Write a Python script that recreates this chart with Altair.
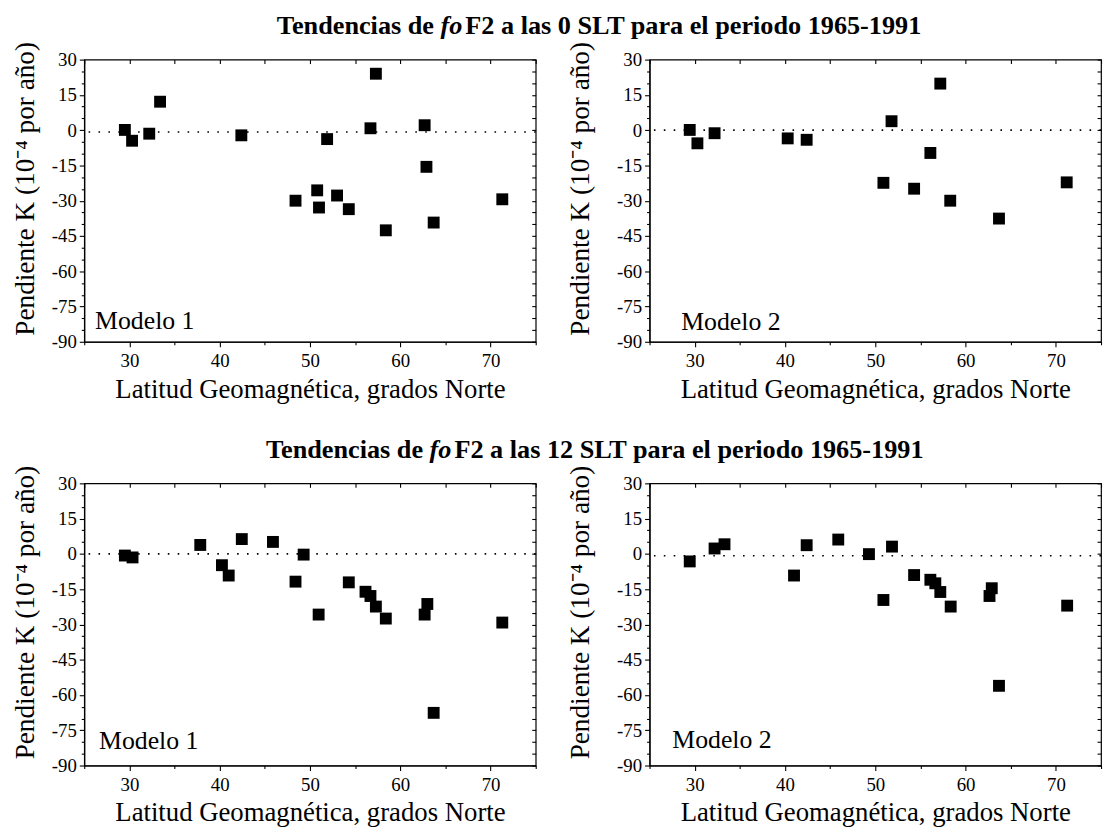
import altair as alt
import pandas as pd

# ---------------- data ----------------
# Top-left: 0 SLT, Modelo 1
tl_lat = [29.5, 30.3, 32.2, 33.4, 42.4, 48.4, 50.8, 51.0, 51.9, 53.0, 54.3, 56.7, 57.3, 58.4, 62.7, 62.9, 63.7, 71.3]
tl_k = [0.1, -4.5, -1.5, 12.1, -2.2, -30.0, -25.6, -32.9, -3.8, -27.8, -33.6, 0.8, 24.0, -42.6, 2.1, -15.6, -39.3, -29.4]
# Top-right: 0 SLT, Modelo 2
tr_lat = [29.45, 30.3, 32.2, 40.3, 42.4, 50.9, 51.8, 54.3, 56.1, 57.2, 58.3, 63.7, 71.2]
tr_k = [0.1, -5.6, -1.3, -3.5, -4.1, -22.4, 3.8, -24.9, -9.7, 19.8, -30.0, -37.6, -22.2]
# Bottom-left: 12 SLT, Modelo 1
bl_lat = [29.5, 30.35, 37.85, 40.25, 41.0, 42.45, 45.9, 48.4, 49.3, 50.96, 54.3, 56.15, 56.7, 57.3, 58.4, 62.7, 63.0, 63.7, 71.3]
bl_k = [-0.7, -1.5, 3.8, -4.8, -9.2, 6.3, 5.1, -11.8, -0.3, -25.8, -12.1, -16.1, -17.9, -22.4, -27.5, -25.8, -21.3, -67.6, -29.2]
# Bottom-right: 12 SLT, Modelo 2
br_lat = [29.45, 32.2, 33.3, 41.0, 42.4, 45.9, 49.3, 50.9, 51.85, 54.3, 56.1, 56.65, 57.2, 58.35, 62.65, 62.9, 63.7, 71.25]
br_k = [-3.2, 2.3, 4.1, -9.2, 3.7, 6.1, -0.1, -19.6, 3.1, -9.0, -11.0, -12.5, -16.2, -22.4, -17.9, -14.6, -56.1, -22.0]
# dotted reference lines
ref_levels = [-0.8, 0.0, 0.0, -0.8]

x_major = [30, 40, 50, 60, 70]
x_minor = [25, 35, 45, 55, 65, 75]
x_all = [25, 30, 35, 40, 45, 50, 55, 60, 65, 70, 75]
y_major = [30, 15, 0, -15, -30, -45, -60, -75, -90]
y_minor = [25, 20, 10, 5, -5, -10, -20, -25, -35, -40, -50, -55, -65, -70, -80, -85]
y_all = sorted(y_major + y_minor)

model_names = ["Modelo 1", "Modelo 2", "Modelo 1", "Modelo 2"]
title_hours = ["0", "12"]

FONT = "Liberation Serif"
W, H = 456, 285

xs = alt.Scale(domain=[25, 75], nice=False, zero=False)
ys = alt.Scale(domain=[-90, 30], nice=False, zero=False)

ylab_expr = "datum.value < 0 ? '-' + abs(datum.value) : '' + datum.value"


def panel(lat, k, ref, name, lab_x, lab_y, tpad, title_hour=None, title_start=None):
    df = pd.DataFrame({"lat": lat, "k": k})
    base = alt.Chart(df)
    pts = base.mark_point(shape="square", filled=True, size=144, color="black", opacity=1).encode(
        x=alt.X("lat:Q", scale=xs, title="Latitud Geomagnética, grados Norte",
                axis=alt.Axis(orient="bottom", values=x_major, tickSize=5, labelPadding=5,
                              titlePadding=6, labelFlush=False, domain=True)),
        y=alt.Y("k:Q", scale=ys, title="Pendiente K (10⁻⁴ por año)",
                axis=alt.Axis(orient="left", values=y_major, tickSize=5, labelPadding=3,
                              titlePadding=tpad, labelFlush=False, labelExpr=ylab_expr, domain=True,
                              titleFontSize=27.5, titleY=130)),
    )
    minor = base.mark_point(opacity=0).encode(
        x=alt.X("lat:Q", scale=xs, title=None,
                axis=alt.Axis(orient="bottom", values=x_minor, labels=False, domain=False, tickSize=3)),
        y=alt.Y("k:Q", scale=ys, title=None,
                axis=alt.Axis(orient="left", values=y_minor, labels=False, domain=False, tickSize=3)),
    )
    mirror = base.mark_point(opacity=0).encode(
        x=alt.X("lat:Q", scale=xs, title=None,
                axis=alt.Axis(orient="top", values=x_all, labels=False, domain=False, tickSize=4, offset=-4)),
        y=alt.Y("k:Q", scale=ys, title=None,
                axis=alt.Axis(orient="right", values=y_all, labels=False, domain=False, tickSize=4, offset=-4)),
    )
    rule = alt.Chart(pd.DataFrame({"k": [ref]})).mark_rule(
        color="black", strokeWidth=1.6, strokeDash=[1.6, 8.4]
    ).encode(y=alt.Y("k:Q", scale=ys, axis=None))
    label = alt.Chart(pd.DataFrame({"t": [name]})).mark_text(
        align="left", baseline="alphabetic", font=FONT, fontSize=26, color="black"
    ).encode(x=alt.value(lab_x), y=alt.value(lab_y), text="t:N")
    layers = [pts, minor, mirror, rule, label]
    if title_hour is not None:
        fs = 26.5
        x_fo = title_start + 6.334 * fs
        tdf = pd.DataFrame({"a": ["Tendencias de"], "b": ["fo"],
                            "c": ["F2 a las " + title_hour + " SLT para el periodo 1965-1991"]})
        tb = alt.Chart(tdf)
        layers.append(tb.mark_text(align="right", baseline="middle", font=FONT, fontSize=fs,
                                   fontWeight="bold", color="black").encode(
            x=alt.value(x_fo - 6.6), y=alt.value(-34), text="a:N"))
        layers.append(tb.mark_text(align="left", baseline="middle", font=FONT, fontSize=fs,
                                   fontWeight="bold", fontStyle="italic", color="black").encode(
            x=alt.value(x_fo), y=alt.value(-34), text="b:N"))
        layers.append(tb.mark_text(align="left", baseline="middle", font=FONT, fontSize=fs,
                                   fontWeight="bold", color="black").encode(
            x=alt.value(x_fo + 0.833 * fs + 3), y=alt.value(-34), text="c:N"))
    return alt.layer(*layers).resolve_axis(x="independent", y="independent").properties(width=W, height=H)


tl = panel(tl_lat, tl_k, ref_levels[0], model_names[0], 11, 272, 12, title_hours[0], 192)
tr = panel(tr_lat, tr_k, ref_levels[1], model_names[1], 32, 273, 22)
bl = panel(bl_lat, bl_k, ref_levels[2], model_names[2], 15, 268, 12, title_hours[1], 181)
br = panel(br_lat, br_k, ref_levels[3], model_names[3], 23, 267, 22)

chart = alt.concat(tl, tr, bl, br, columns=2, spacing={"row": 143, "column": 115}, bounds="flush").properties(
    padding={"left": 3, "top": 0, "right": 0, "bottom": 0}
).configure_view(
    stroke="black", strokeWidth=1.2
).configure_axis(
    grid=False,
    labelFont=FONT, labelFontSize=19, labelColor="black",
    titleFont=FONT, titleFontSize=27, titleFontWeight="normal", titleColor="black",
    tickColor="black", tickWidth=1.1, domainColor="black", domainWidth=1.2,
    labelOverlap=False,
)

chart.save("out.html", embed_options={"renderer": "svg", "actions": False})
